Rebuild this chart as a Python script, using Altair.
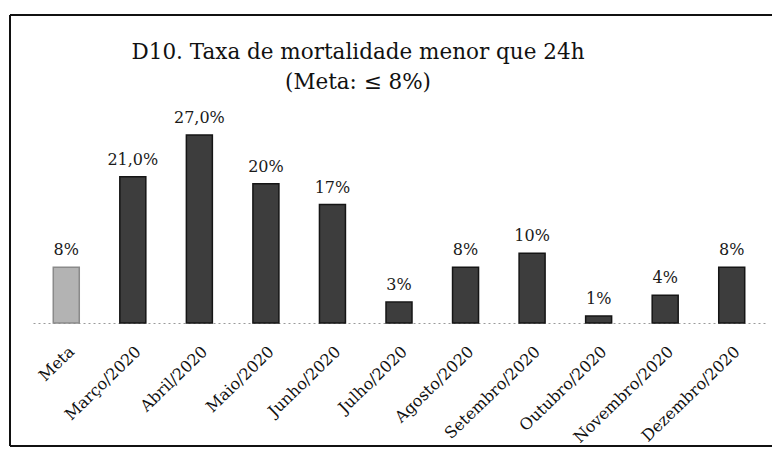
import altair as alt
import pandas as pd

categorias = ["Meta", "Março/2020", "Abril/2020", "Maio/2020", "Junho/2020", "Julho/2020",
              "Agosto/2020", "Setembro/2020", "Outubro/2020", "Novembro/2020", "Dezembro/2020"]
valores = [8, 21, 27, 20, 17, 3, 8, 10, 1, 4, 8]
rotulos = ["8%", "21,0%", "27,0%", "20%", "17%", "3%", "8%", "10%", "1%", "4%", "8%"]
tipos = ["Meta"] + ["Mês"] * 10

df = pd.DataFrame({"cat": categorias, "valor": valores, "rotulo": rotulos, "tipo": tipos})

PAD_L, PAD_T, PAD_R, PAD_B = 25, 106, 7, 125
W, H = 732, 209

x_enc = alt.X("cat:N", sort=categorias, title=None,
              scale=alt.Scale(paddingInner=0, paddingOuter=0),
              axis=alt.Axis(labelAngle=-44, labelFont="DejaVu Serif", labelFontSize=16,
                            labelColor="#111", labelPadding=20, ticks=False,
                            domainColor="#9a9a9a", domainDash=[2, 3], domainWidth=1,
                            labelAlign="right", labelBaseline="top", labelOverlap=False))
y_enc = alt.Y("valor:Q", scale=alt.Scale(domain=[0, 30]), axis=None)

base = alt.Chart(df)

bars = base.mark_bar(size=26, strokeWidth=1.5).encode(
    x=x_enc, y=y_enc,
    color=alt.Color("tipo:N", scale=alt.Scale(domain=["Meta", "Mês"], range=["#b3b3b3", "#3d3d3d"]), legend=None),
    stroke=alt.Stroke("tipo:N", scale=alt.Scale(domain=["Meta", "Mês"], range=["#8a8a8a", "#151515"]), legend=None),
)

labels = base.mark_text(font="DejaVu Serif", fontSize=16, color="#1a1a1a", dy=-12,
                        baseline="alphabetic").encode(
    x=alt.X("cat:N", sort=categorias), y=y_enc, text="rotulo:N")

frame_df = pd.DataFrame({"k": [0]})
left = alt.Chart(frame_df).mark_rule(color="#111", strokeWidth=2).encode(
    x=alt.value(-23), y=alt.value(-99), y2=alt.value(332))
top = alt.Chart(frame_df).mark_rule(color="#111", strokeWidth=2).encode(
    x=alt.value(-23), x2=alt.value(W + PAD_R), y=alt.value(-99))
bottom = alt.Chart(frame_df).mark_rule(color="#111", strokeWidth=2).encode(
    x=alt.value(-23), x2=alt.value(W + PAD_R), y=alt.value(332))

chart = alt.layer(bars, labels, left, top, bottom).properties(
    width=W, height=H,
    padding={"left": PAD_L, "top": PAD_T, "right": PAD_R, "bottom": PAD_B},
    autosize=alt.AutoSizeParams(type="none"),
    title=alt.TitleParams(["D10. Taxa de mortalidade menor que 24h", "(Meta: ≤ 8%)"],
                          font="DejaVu Serif", fontSize=21.5, fontWeight="normal",
                          color="#111", anchor="middle", dx=-41, offset=-79, lineHeight=30,
                          frame="group"),
).configure(background="white").configure_view(strokeWidth=0, stroke="transparent")

chart.save("out.html", embed_options={"renderer": "svg", "actions": False})
